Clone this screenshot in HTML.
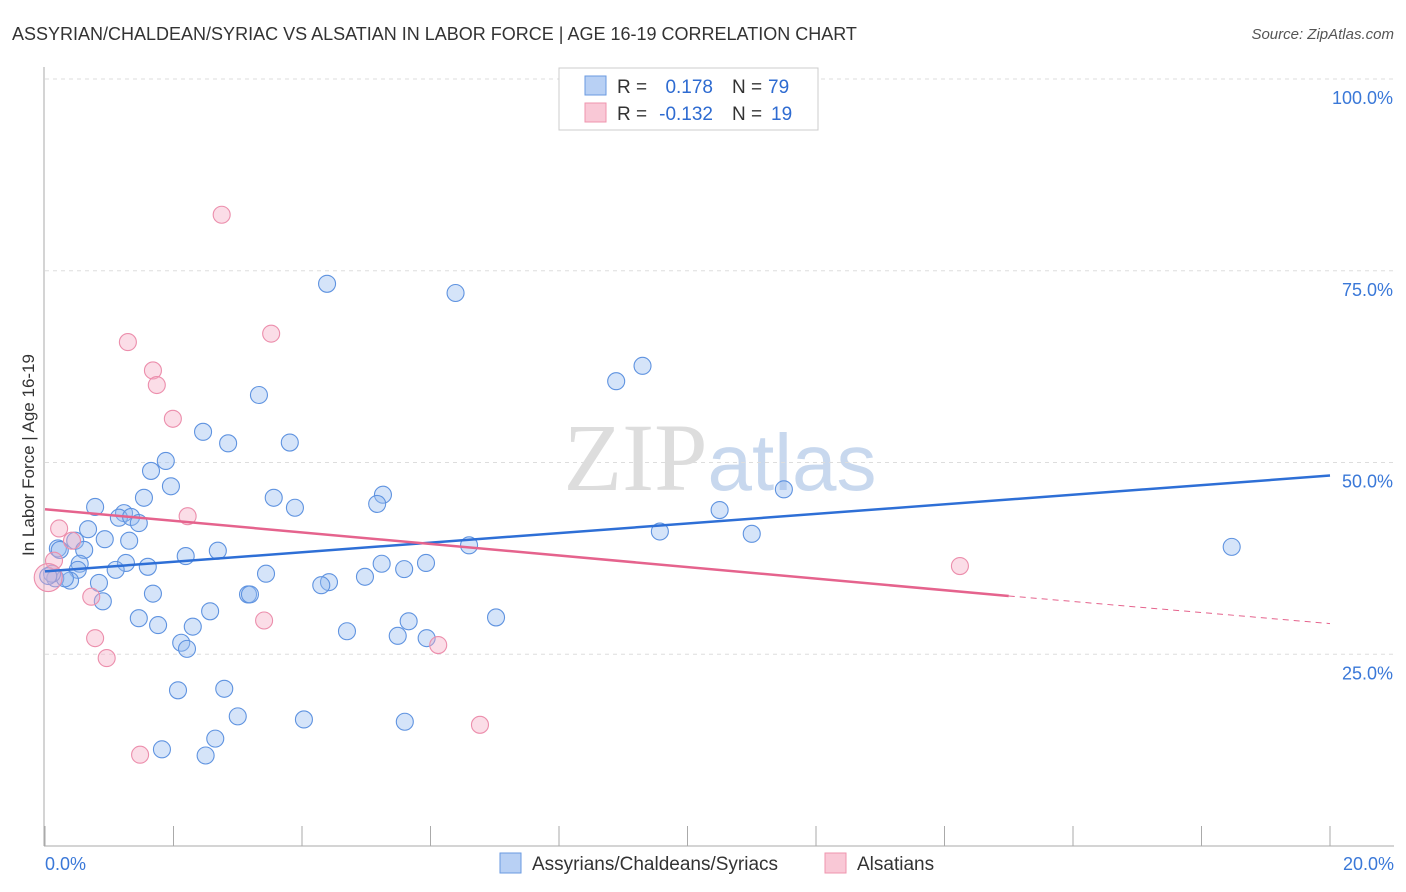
<!DOCTYPE html>
<html><head><meta charset="utf-8"><style>
body{margin:0;background:#fff;font-family:"Liberation Sans",sans-serif}
svg{display:block}
</style></head><body>
<svg id="chart" width="1406" height="892" xmlns="http://www.w3.org/2000/svg">
<text x="12" y="40" font-size="18" fill="#333">ASSYRIAN/CHALDEAN/SYRIAC VS ALSATIAN IN LABOR FORCE | AGE 16-19 CORRELATION CHART</text>
<text x="1394" y="39" font-size="15" fill="#555" text-anchor="end" font-style="italic">Source: ZipAtlas.com</text>
<text transform="translate(34,455) rotate(-90)" font-size="17" fill="#333" text-anchor="middle">In Labor Force | Age 16-19</text>
<text x="720" y="490" font-size="96" fill="#ddd" text-anchor="middle" font-family="Liberation Serif,serif">ZIP<tspan fill="#c8d8ee" font-family="Liberation Sans,sans-serif" font-size="80">atlas</tspan></text>
<g id="grid"></g><g id="pts"></g><g id="lines"></g>
<g>
<rect x="559" y="68" width="259" height="62" fill="#fff" stroke="#ccc"/>
<rect x="585" y="76" width="21" height="19" fill="#b8d0f4" stroke="#6a9ae0"/>
<rect x="585" y="103" width="21" height="19" fill="#f9c8d6" stroke="#ef94ae"/>
<text x="617" y="93" font-size="19" fill="#333">R =</text>
<text x="713" y="93" font-size="19" fill="#2e6bd1" text-anchor="end">0.178</text>
<text x="732" y="93" font-size="19" fill="#333">N =</text>
<text x="768" y="93" font-size="19" fill="#2e6bd1">79</text>
<text x="617" y="120" font-size="19" fill="#333">R =</text>
<text x="713" y="120" font-size="19" fill="#2e6bd1" text-anchor="end">-0.132</text>
<text x="732" y="120" font-size="19" fill="#333">N =</text>
<text x="771" y="120" font-size="19" fill="#2e6bd1">19</text>
</g>
<g>
<rect x="500" y="853" width="21" height="20" fill="#b8d0f4" stroke="#6a9ae0"/>
<text x="532" y="870" font-size="19" fill="#333">Assyrians/Chaldeans/Syriacs</text>
<rect x="825" y="853" width="21" height="20" fill="#f9c8d6" stroke="#ef94ae"/>
<text x="857" y="870" font-size="19" fill="#333">Alsatians</text>
</g>
</svg>
<script>
const xTicks=[0,2,4,6,8,10,12,14,16,18,20];
const yTicks=[25,50,75,100];
const blueX=[4.39,6.39,9.3,8.89,3.33,2.46,2.85,3.81,1.88,1.65,1.96,11.5,5.26,3.56,1.54,5.17,0.78,3.89,10.5,1.23,1.15,1.34,1.46,0.67,9.57,11.0,0.93,1.31,0.47,0.2,0.61,6.6,2.69,2.19,18.47,1.26,0.54,1.6,1.1,5.93,5.24,5.59,3.44,4.98,0.51,0.39,0.84,0.16,0.31,4.42,4.3,1.68,3.16,3.19,0.9,2.57,1.46,7.02,5.66,2.3,1.76,4.7,5.49,5.94,2.12,2.21,2.07,2.79,3.0,4.03,5.6,2.65,1.82,2.5,0.11,0.05,0.23];
const blueY=[73.3,72.1,62.6,60.6,58.8,54.0,52.5,52.6,50.2,48.9,46.9,46.5,45.8,45.4,45.4,44.6,44.2,44.1,43.8,43.4,42.8,42.9,42.1,41.3,41.0,40.7,40.0,39.8,39.8,38.8,38.6,39.2,38.5,37.8,39.0,36.9,36.8,36.4,36.0,36.9,36.8,36.1,35.5,35.1,36.0,34.6,34.3,34.9,34.9,34.4,34.0,32.9,32.8,32.8,31.9,30.6,29.7,29.8,29.3,28.6,28.8,28.0,27.4,27.1,26.5,25.7,20.3,20.5,16.9,16.5,16.2,14.0,12.6,11.8,35.5,35.2,38.6];
const pinkX=[2.75,1.29,3.52,1.68,1.74,1.99,2.22,0.22,0.42,0.14,0.72,0.78,3.41,0.96,6.12,14.24,1.48,6.77,0.05];
const pinkY=[82.3,65.7,66.8,62.0,60.1,55.7,43.0,41.4,39.8,37.2,32.5,27.1,29.4,24.5,26.2,36.5,11.9,15.8,35.0];
const blueLine=[[0,35.8],[20,48.3]];
const pinkLine=[[0,43.9],[15,32.6],[20,29.0]];
const X=v=>45+v/20*1285, Y=v=>846-v/100*767;
const NS="http://www.w3.org/2000/svg";
function mk(p,t,a){const e=document.createElementNS(NS,t);for(const k in a)e.setAttribute(k,a[k]);p.appendChild(e);return e;}
const g=document.getElementById('grid'),pts=document.getElementById('pts'),ln=document.getElementById('lines');
let ax=mk(g,'line',{x1:44,y1:67,x2:44,y2:846,stroke:'#aaa'});


let bx=mk(g,'line',{x1:44,y1:846,x2:1394,y2:846,stroke:'#aaa'});


yTicks.forEach(v=>{
 const l=mk(g,'line',{x1:45,x2:1394,y1:Y(v),y2:Y(v),stroke:'#ddd','stroke-dasharray':'4,4'});
 
 
 const t=mk(g,'text',{x:1393,y:Y(v)+25,'font-size':18,fill:'#3a78d8','text-anchor':'end'});t.textContent=v.toFixed(1)+'%';
 
 
});
xTicks.forEach(v=>{
 const l=mk(g,'line',{x1:X(v),x2:X(v),y1:826,y2:846,stroke:'#aaa'});
 
 
});
[[0,'start',45],[20,'end',1394]].forEach(([v,a,x])=>{
 const t=mk(g,'text',{x:x,y:870,'font-size':18,fill:'#3a78d8','text-anchor':a});t.textContent=v.toFixed(1)+'%';
 
 
});
blueX.forEach((v,i)=>{const c=mk(pts,'circle',{cx:X(v),cy:Y(blueY[i]),r:8.5,fill:'rgba(150,188,240,0.4)',stroke:'#5f93e0','stroke-width':1.1});
 
 });
pinkX.forEach((v,i)=>{const c=mk(pts,'circle',{cx:X(v),cy:Y(pinkY[i]),r:i==18?14:8.5,fill:'rgba(246,170,195,0.4)',stroke:'#ec8eac','stroke-width':1.1});
 
 });
let b=mk(ln,'line',{x1:X(blueLine[0][0]),y1:Y(blueLine[0][1]),x2:X(blueLine[1][0]),y2:Y(blueLine[1][1]),stroke:'#2e6fd6','stroke-width':2.5});


let p=mk(ln,'line',{x1:X(pinkLine[0][0]),y1:Y(pinkLine[0][1]),x2:X(pinkLine[1][0]),y2:Y(pinkLine[1][1]),stroke:'#e5638d','stroke-width':2.5});


let pd=mk(ln,'line',{x1:X(pinkLine[1][0]),y1:Y(pinkLine[1][1]),x2:X(pinkLine[2][0]),y2:Y(pinkLine[2][1]),stroke:'#e5638d','stroke-width':1,'stroke-dasharray':'6,5'});


</script>
</body></html>
